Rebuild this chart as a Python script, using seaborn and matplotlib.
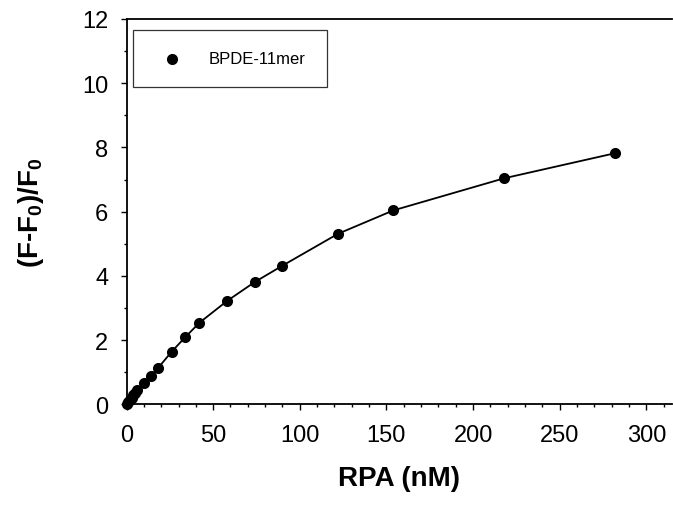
import matplotlib
matplotlib.use("Agg")
import matplotlib.pyplot as plt
import seaborn as sns
import pandas as pd
from matplotlib.ticker import MultipleLocator

rpa_nM = [0, 1, 2, 3, 4, 5, 6, 10, 14, 18, 26, 34, 42, 58, 74, 90, 122, 154, 218, 282]
signal = [0.0, 0.07, 0.14, 0.21, 0.29, 0.36, 0.45, 0.68, 0.90, 1.12, 1.64, 2.10, 2.54, 3.22, 3.81, 4.32, 5.31, 6.04, 7.04, 7.82]
series_name = "BPDE-11mer"

df = pd.DataFrame({"RPA": rpa_nM, "val": signal})

sns.set_theme(style="ticks")
plt.rcParams['font.family'] = ['Liberation Sans', 'DejaVu Sans']
plt.rcParams['mathtext.fontset'] = 'custom'
plt.rcParams['mathtext.rm'] = 'Liberation Sans'
plt.rcParams['mathtext.bf'] = 'Liberation Sans:bold'
plt.rcParams['text.color'] = 'black'
plt.rcParams['axes.labelcolor'] = 'black'

fig = plt.figure(figsize=(6.73, 5.10), dpi=100)
ax = fig.add_axes([0.188, 0.205, 0.811, 0.756])

sns.lineplot(data=df, x="RPA", y="val", ax=ax, color="black", lw=1.3, legend=False)
sns.scatterplot(data=df, x="RPA", y="val", ax=ax, color="black", s=64,
                edgecolor="black", linewidth=0, label=series_name, zorder=3, clip_on=False)

ax.set_xlim(0, 315)
ax.set_ylim(0, 12)
ax.xaxis.set_major_locator(MultipleLocator(50))
ax.xaxis.set_minor_locator(MultipleLocator(10))
ax.yaxis.set_major_locator(MultipleLocator(2))
ax.yaxis.set_minor_locator(MultipleLocator(1))
ax.tick_params(axis='both', which='major', direction='out', length=4, width=1, labelsize=17,
               color='black', labelcolor='black')
ax.tick_params(axis='x', which='major', pad=10)
ax.tick_params(axis='y', which='major', pad=9)
ax.tick_params(axis='both', which='minor', direction='out', length=2.5, width=1, color='black')

for s in ['left', 'bottom', 'top']:
    ax.spines[s].set_color('black')
    ax.spines[s].set_linewidth(1.3)
ax.spines['right'].set_visible(False)

ax.set_xlabel("RPA (nM)", fontsize=20, fontweight='bold', labelpad=14)
ax.set_ylabel(r"(F-F$_{\mathbf{0}}$)/F$_{\mathbf{0}}$", fontsize=20, fontweight='bold', labelpad=26)

leg = ax.legend(loc='upper left', bbox_to_anchor=(0.012, 0.97), fontsize=12, frameon=True,
                fancybox=False, edgecolor='black', borderpad=1.25, handletextpad=1.1,
                borderaxespad=0.0, markerscale=1.0, handlelength=2.2)
leg.get_frame().set_linewidth(0.9)
for t in leg.get_texts():
    t.set_text(series_name)

fig.savefig("out.png", dpi=100)
